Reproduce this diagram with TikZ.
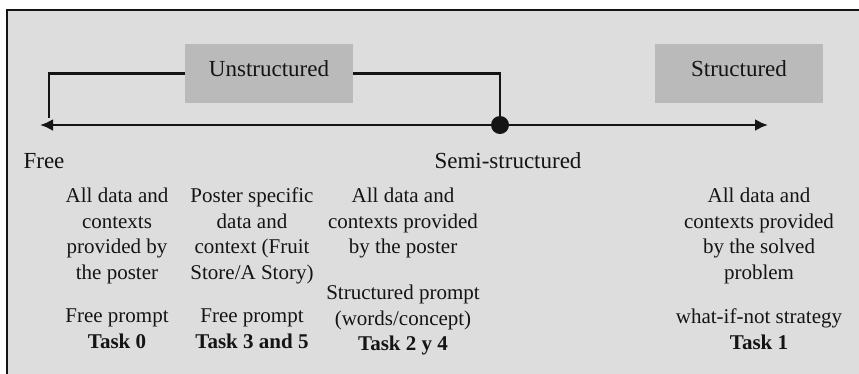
\documentclass[tikz,border=0pt]{standalone}
\usepackage{fontspec}
\setmainfont{Liberation Serif}
\usepackage{xcolor}
\usetikzlibrary{arrows.meta}

\definecolor{panel}{gray}{0.865}
\definecolor{bandgray}{gray}{0.73}
\definecolor{ink}{gray}{0.08}

\tikzset{
	txt/.style={font=\fontsize{21}{25.5}\selectfont,align=center,inner sep=0pt,text=ink},
	lbl/.style={font=\fontsize{23}{27}\selectfont,inner sep=0pt,text=ink},
	band/.style={fill=bandgray,minimum width=168pt,inner sep=0pt,
		text height=32pt,text depth=27pt,font=\fontsize{23}{27}\selectfont,text=ink},
	wire/.style={line width=2.5pt,draw=ink},
	tip/.style={{Latex[length=13pt,width=12pt]}-{Latex[length=13pt,width=12pt]}},
}

\begin{document}
\begin{tikzpicture}[x=1pt,y=-1pt]
		\useasboundingbox (0,0) rectangle (859,373);
		\clip (0,0) rectangle (859,373);
		\fill[white] (0,0) rectangle (859,373);
		\draw[line width=2.5pt,draw=ink,fill=panel] (7,10) rectangle (880,395);
		% the two bands
		\node[band,anchor=base] (unstr) at (269,76) {Unstructured};
		\node[band,anchor=base] (str) at (739,76) {Structured};
		% scale line
		\coordinate (lend) at (40,125);
		\coordinate (rend) at (768,125);
		\coordinate (lcorner) at (49,118);
		\draw[wire,tip] (lend) -- (rend);
		\draw[wire] (unstr.west) -| (lcorner);
		\node[circle,fill=ink,minimum size=18pt,inner sep=0pt] (semidot) at (500,125) {};
		\draw[wire] (unstr.east) -| (semidot.north);
		\node[lbl,anchor=base] (free) at (44,168) {Free};
		\node[lbl,anchor=base] (semi) at (508,168) {Semi-structured};
		% columns
		\node[txt,anchor=north] (data0) at (117,188) {All data and\\contexts\\provided by\\the poster};
		\node[txt,anchor=north] (data35) at (252,188) {Poster specific\\data and\\context (Fruit\\Store/A Story)};
		\node[txt,anchor=north] (data24) at (403,188) {All data and\\contexts provided\\by the poster};
		\node[txt,anchor=north] (data1) at (759,188) {All data and\\contexts provided\\by the solved\\problem};
		\node[txt,anchor=north] (task0) at (117,309) {Free prompt\\\textbf{Task 0}};
		\node[txt,anchor=north] (task35) at (252,309) {Free prompt\\\textbf{Task 3 and 5}};
		\node[txt,anchor=north] (task24) at (403,285) {Structured prompt\\(words/concept)\\\textbf{Task 2 y 4}};
		\node[txt,anchor=north] (task1) at (759,309) {what-if-not strategy\\\textbf{Task 1}};
	\end{tikzpicture}
\end{document}
